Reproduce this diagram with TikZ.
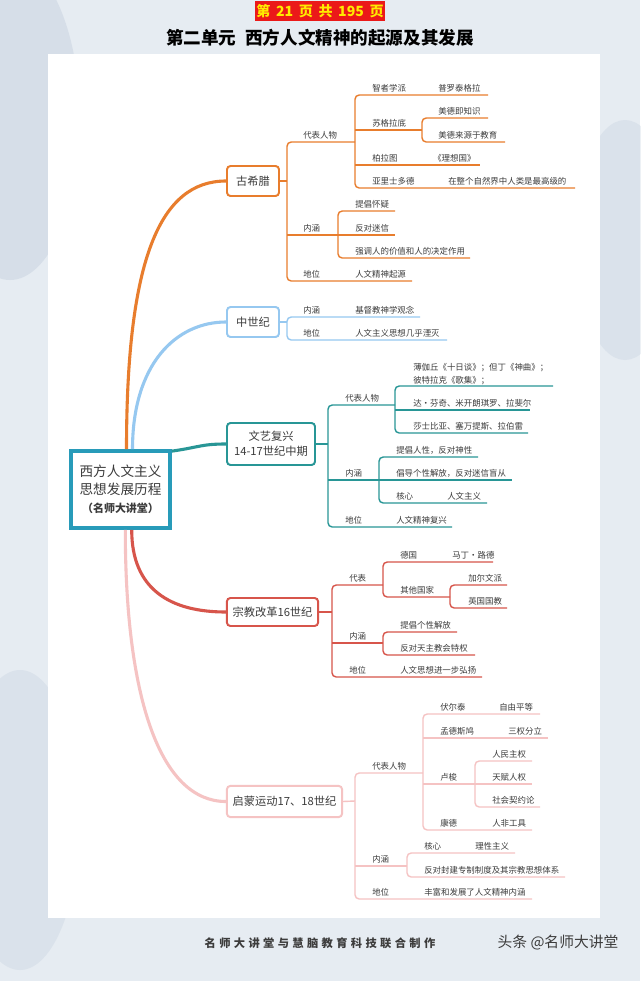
\documentclass[tikz,border=0pt]{standalone}
\usepackage{fontspec}
\newfontfamily\cjk{Noto Sans CJK SC}
\newfontfamily\cjkwide[LetterSpace=30]{Noto Sans CJK SC}
\usetikzlibrary{positioning}

\begin{document}
\begin{tikzpicture}[x=0.025cm, y=-0.025cm,
    topic/.style={draw, fill=white, rounded corners=2.5pt, line width=1.4pt,
      text=cText, align=center, inner sep=1pt, font=\cjk\fontsize{8}{10.5}\selectfont},
    lbl/.style={anchor=west, inner sep=0pt, text=cText, font=\cjk\fontsize{6}{9}\selectfont},
    branch/.style={line width=2.2pt},
    twig/.style={line width=1pt, rounded corners=3pt}]
  % Colours of the five periods
  \definecolor{cGreece}{RGB}{232,125,45}
  \definecolor{cMiddle}{RGB}{150,200,240}
  \definecolor{cRenai}{RGB}{40,150,150}
  \definecolor{cReform}{RGB}{215,85,75}
  \definecolor{cEnlight}{RGB}{245,195,195}
  \definecolor{cRoot}{RGB}{40,155,185}
  \definecolor{cText}{RGB}{60,60,60}
  \definecolor{cBack}{RGB}{230,236,242}
  \definecolor{cCloud}{RGB}{185,198,215}
  \definecolor{cPageRed}{RGB}{235,25,25}
  \definecolor{cPageYel}{RGB}{255,235,0}

  \useasboundingbox (0,0) rectangle (640,981);

  % Background and white page
  \fill[cBack] (0,0) rectangle (640,981);
  \fill[cCloud, opacity=0.35] (10,120) ellipse (70 and 160);
  \fill[cCloud, opacity=0.25] (625,240) ellipse (50 and 120);
  \fill[cCloud, opacity=0.25] (20,820) ellipse (60 and 150);
  \fill[white] (48,54) rectangle (600,918);

  % Header
  \node[fill=cPageRed, text=cPageYel, minimum width=3.25cm, minimum height=0.5cm, inner sep=0pt,
    font=\cjk\bfseries\fontsize{10}{12}\selectfont] (pageno) at (320,11)
    {第\hspace{0.4em}21\hspace{0.4em}页\hspace{0.4em}共\hspace{0.4em}195\hspace{0.4em}页};
  \node[font=\cjk\bfseries\fontsize{12.5}{14}\selectfont] (title) at (320,38)
    {第二单元\hspace{0.5em}西方人文精神的起源及其发展};

  % Root
  \node[draw=cRoot, line width=2.5pt, fill=white, minimum width=2.48cm, minimum height=1.93cm,
    align=center, text=cText, font=\cjk\fontsize{9.7}{12.8}\selectfont] (root) at (120.5,489.5)
    {西方人文主义\\思想发展历程\\{\fontsize{7.8}{12.8}\selectfont\bfseries （名师大讲堂）}};

  % Periods
  \node[topic, draw=cGreece, minimum width=1.3cm, minimum height=0.75cm] (greece) at (253,181) {古希腊};
  \node[topic, draw=cMiddle, minimum width=1.3cm, minimum height=0.75cm] (middle) at (253,322) {中世纪};
  \node[topic, draw=cRenai, minimum width=2.2cm, minimum height=1.05cm] (renai) at (271,444) {文艺复兴\\14-17世纪中期};
  \node[topic, draw=cReform, minimum width=2.28cm, minimum height=0.7cm] (reform) at (272.5,612) {宗教改革16世纪};
  \node[topic, draw=cEnlight, minimum width=2.88cm, minimum height=0.78cm] (enlight) at (284.5,801.5) {启蒙运动17、18世纪};

  % Main branches
  \draw[branch, cGreece] ([xshift=0.15cm]root.north) .. controls +(0,-190) and +(-66,0) .. (greece.west);
  \draw[branch, cMiddle] ([xshift=0.3cm]root.north) .. controls +(0,-85) and +(-50,0) .. (middle.west);
  \draw[branch, cRenai] ([yshift=-0.05cm]root.north east) .. controls +(28,-4) and +(-25,0) .. (renai.west);
  \draw[branch, cReform] ([xshift=0.28cm]root.south) .. controls +(0,60) and +(-55,0) .. (reform.west);
  \draw[branch, cEnlight] ([xshift=0.12cm]root.south) .. controls +(0,170) and +(-65,0) .. (enlight.west);

  % 古希腊
  \draw[twig, cGreece] (greece.east) -- (287,181);
  \draw[twig, cGreece] (355,142) -- (287,142) -- (287,281) -- (412,281);
  \draw[twig, cGreece] (287,235) -- (395,235);
  \draw[twig, cGreece] (488,95) -- (355,95) -- (355,188) -- (575,188);
  \draw[twig, cGreece] (355,130) -- (422,130);
  \draw[twig, cGreece] (355,165) -- (480,165);
  \draw[twig, cGreece] (488,118) -- (422,118) -- (422,142) -- (505,142);
  \draw[twig, cGreece] (395,211) -- (338,211) -- (338,258) -- (470,258);
  \node[lbl] (gRep) at (303,135) {代表人物};
  \node[lbl] (gZz) at (372,88) {智者学派};
  \node[lbl] (gZzA) at (438,88) {普罗泰格拉};
  \node[lbl] (gSg) at (372,123) {苏格拉底};
  \node[lbl] (gSgA) at (438,111) {美德即知识};
  \node[lbl] (gSgB) at (438,135) {美德来源于教育};
  \node[lbl] (gBl) at (372,158) {柏拉图};
  \node[lbl] (gBlA) at (433,158) {《理想国》};
  \node[lbl] (gYl) at (372,181) {亚里士多德};
  \node[lbl] (gYlA) at (448,181) {在整个自然界中人类是最高级的};
  \node[lbl] (gNh) at (303,228) {内涵};
  \node[lbl] (gNhA) at (355,204) {提倡怀疑};
  \node[lbl] (gNhB) at (355,228) {反对迷信};
  \node[lbl] (gNhC) at (355,251) {强调人的价值和人的决定作用};
  \node[lbl] (gDw) at (303,274) {地位};
  \node[lbl] (gDwA) at (355,274) {人文精神起源};

  % 中世纪
  \draw[twig, cMiddle] (middle.east) -- (287,322);
  \draw[twig, cMiddle] (420,317) -- (287,317) -- (287,340) -- (447,340);
  \node[lbl] (mNh) at (303,310) {内涵};
  \node[lbl] (mNhA) at (355,310) {基督教神学观念};
  \node[lbl] (mDw) at (303,333) {地位};
  \node[lbl] (mDwA) at (355,333) {人文主义思想几乎湮灭};

  % 文艺复兴
  \draw[twig, cRenai] (renai.east) -- (328,444);
  \draw[twig, cRenai] (395,405) -- (328,405) -- (328,527) -- (452,527);
  \draw[twig, cRenai] (328,480) -- (512,480);
  \draw[twig, cRenai] (553,386) -- (395,386) -- (395,433) -- (528,433);
  \draw[twig, cRenai] (395,410) -- (530,410);
  \draw[twig, cRenai] (478,457) -- (379,457) -- (379,503) -- (487,503);
  \node[lbl] (rRep) at (345,398) {代表人物};
  \node[lbl, anchor=south west, align=left] (rRepA) at (413,385) {薄伽丘《十日谈》；但丁《神曲》；\\彼特拉克《歌集》；};
  \node[lbl] (rRepB) at (413,403) {达·芬奇、米开朗琪罗、拉斐尔};
  \node[lbl] (rRepC) at (413,426) {莎士比亚、塞万提斯、拉伯雷};
  \node[lbl] (rNh) at (345,473) {内涵};
  \node[lbl] (rNhA) at (396,450) {提倡人性，反对神性};
  \node[lbl] (rNhB) at (396,473) {倡导个性解放，反对迷信盲从};
  \node[lbl] (rNhC) at (396,496) {核心};
  \node[lbl] (rNhD) at (447,496) {人文主义};
  \node[lbl] (rDw) at (345,520) {地位};
  \node[lbl] (rDwA) at (396,520) {人文精神复兴};

  % 宗教改革
  \draw[twig, cReform] (reform.east) -- (332,612);
  \draw[twig, cReform] (383,585) -- (332,585) -- (332,677) -- (482,677);
  \draw[twig, cReform] (332,643) -- (383,643);
  \draw[twig, cReform] (493,562) -- (383,562) -- (383,597) -- (450,597);
  \draw[twig, cReform] (507,585) -- (450,585) -- (450,608) -- (507,608);
  \draw[twig, cReform] (457,632) -- (383,632) -- (383,655) -- (475,655);
  \node[lbl] (fRep) at (349,578) {代表};
  \node[lbl] (fDe) at (400,555) {德国};
  \node[lbl] (fDeA) at (452,555) {马丁·路德};
  \node[lbl] (fQt) at (400,590) {其他国家};
  \node[lbl] (fQtA) at (468,578) {加尔文派};
  \node[lbl] (fQtB) at (468,601) {英国国教};
  \node[lbl] (fNh) at (349,636) {内涵};
  \node[lbl] (fNhA) at (400,625) {提倡个性解放};
  \node[lbl] (fNhB) at (400,648) {反对天主教会特权};
  \node[lbl] (fDw) at (349,670) {地位};
  \node[lbl] (fDwA) at (400,670) {人文思想进一步弘扬};

  % 启蒙运动
  \draw[twig, cEnlight] (enlight.east) -- (355,801);
  \draw[twig, cEnlight] (423,773) -- (355,773) -- (355,899) -- (532,899);
  \draw[twig, cEnlight] (355,866) -- (407,866);
  \draw[twig, cEnlight] (540,714) -- (423,714) -- (423,830) -- (532,830);
  \draw[twig, cEnlight] (423,738) -- (548,738);
  \draw[twig, cEnlight] (423,784) -- (532,784);
  \draw[twig, cEnlight] (532,761) -- (475,761) -- (475,807) -- (540,807);
  \draw[twig, cEnlight] (515,853) -- (407,853) -- (407,877) -- (565,877);
  \node[lbl] (eRep) at (372,766) {代表人物};
  \node[lbl] (eVo) at (440,707) {伏尔泰};
  \node[lbl] (eVoA) at (499,707) {自由平等};
  \node[lbl] (eMo) at (440,731) {孟德斯鸠};
  \node[lbl] (eMoA) at (508,731) {三权分立};
  \node[lbl] (eLu) at (440,777) {卢梭};
  \node[lbl] (eLuA) at (492,754) {人民主权};
  \node[lbl] (eLuB) at (492,777) {天赋人权};
  \node[lbl] (eLuC) at (492,800) {社会契约论};
  \node[lbl] (eKa) at (440,823) {康德};
  \node[lbl] (eKaA) at (492,823) {人非工具};
  \node[lbl] (eNh) at (372,859) {内涵};
  \node[lbl] (eNhA) at (424,846) {核心};
  \node[lbl] (eNhB) at (475,846) {理性主义};
  \node[lbl] (eNhC) at (424,870) {反对封建专制制度及其宗教思想体系};
  \node[lbl] (eDw) at (372,892) {地位};
  \node[lbl] (eDwA) at (424,892) {丰富和发展了人文精神内涵};

  % Footer
  \node[text=cText, font=\cjkwide\bfseries\fontsize{8}{10}\selectfont] (credit) at (320,943) {名师大讲堂与慧脑教育科技联合制作};
  \node[text=cText, font=\cjk\fontsize{10.5}{12}\selectfont] (mark) at (558,943) {头条 @名师大讲堂};
\end{tikzpicture}
\end{document}
